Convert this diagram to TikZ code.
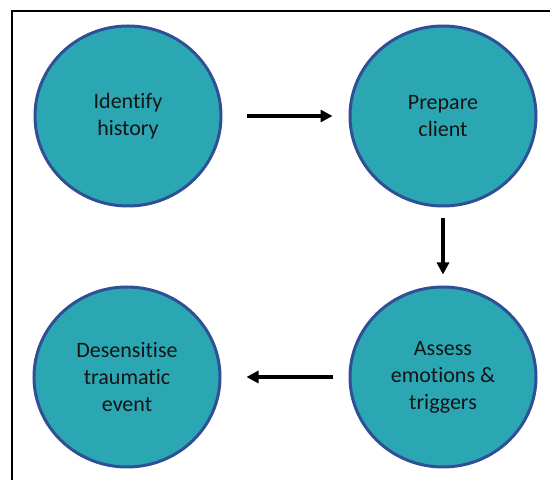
\documentclass[tikz,border=0pt]{standalone}
\usepackage{fontspec}
\setmainfont{Carlito}[Ligatures={NoCommon}]
\usetikzlibrary{shapes.geometric,arrows.meta}
\definecolor{tealfill}{RGB}{43,167,179}
\definecolor{ringblue}{RGB}{47,80,150}
\definecolor{txt}{RGB}{20,20,20}
\tikzset{
  stepcircle/.style={ellipse, draw=ringblue, fill=tealfill, line width=3pt,
    minimum width=186pt, minimum height=180pt, inner sep=0pt,
    align=center, text=txt, font=\fontsize{22pt}{27pt}\selectfont},
  flowarrow/.style={line width=3.2pt, -{Triangle[length=12pt,width=12pt]}}
}
\begin{document}
\begin{tikzpicture}[x=1pt,y=1pt]
\useasboundingbox (0,0) rectangle (550,480);
\fill[white] (0,0) rectangle (550,480);
\draw[line width=2pt] (551,469) -- (12,469) -- (12,-1);
\node[stepcircle] (c1) at (128,364) {Identify\\history};
\node[stepcircle] (c2) at (443,364) {Prepare\\client};
\node[stepcircle] (c3) at (443,103) {Assess\\emotions \&\\triggers};
\node[stepcircle] (c4) at (127,103) {Desensitise\\traumatic\\event};
\draw[flowarrow, shorten <=24pt, shorten >=16pt] (c1.east) -- (c2.west);
\draw[flowarrow, shorten <=11pt, shorten >=11pt] (c2.south) -- (c3.north);
\draw[flowarrow, shorten <=16pt, shorten >=25pt] (c3.west) -- (c4.east);
\end{tikzpicture}
\end{document}
